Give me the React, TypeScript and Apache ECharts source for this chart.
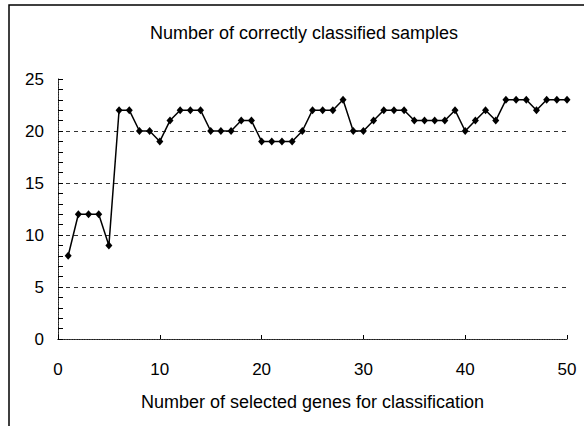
import React, { useEffect, useRef } from "react";
import * as echarts from "echarts";

const titleText = "Number of correctly classified samples";
const xAxisName = "Number of selected genes for classification";
const geneCounts = [
  1, 2, 3, 4, 5, 6, 7, 8, 9, 10, 11, 12, 13, 14, 15, 16, 17, 18, 19, 20, 21, 22, 23, 24, 25,
  26, 27, 28, 29, 30, 31, 32, 33, 34, 35, 36, 37, 38, 39, 40, 41, 42, 43, 44, 45, 46, 47, 48, 49, 50,
];
const correctSamples = [
  8, 12, 12, 12, 9, 22, 22, 20, 20, 19, 21, 22, 22, 22, 20, 20, 20, 21, 21, 19, 19, 19, 19, 20, 22,
  22, 22, 23, 20, 20, 21, 22, 22, 22, 21, 21, 21, 21, 22, 20, 21, 22, 21, 23, 23, 23, 22, 23, 23, 23,
];

const FONT = "'Liberation Sans', Arial, sans-serif";

export default function App() {
  const ref = useRef<HTMLDivElement>(null);
  useEffect(() => {
    if (!ref.current) return;
    const chart = echarts.init(ref.current, null, { renderer: "svg" });
    chart.setOption({
      animation: false,
      backgroundColor: "#ffffff",
      title: {
        text: titleText,
        left: 150,
        top: 24,
        padding: 0,
        textStyle: { fontFamily: FONT, fontSize: 18, fontWeight: "normal", color: "#000" },
      },
      graphic: [
        {
          type: "rect",
          shape: { x: 9, y: 5, width: 620, height: 480 },
          style: { fill: "none", stroke: "#000", lineWidth: 1.5 },
          silent: true,
        },
      ],
      grid: { left: 58, right: 17, top: 79, bottom: 87, containLabel: false },
      xAxis: [
        {
          type: "value",
          min: 0,
          max: 50,
          interval: 10,
          name: xAxisName,
          nameLocation: "middle",
          nameGap: 54,
          nameTextStyle: { fontFamily: FONT, fontSize: 18, color: "#000" },
          axisLine: { show: true, lineStyle: { color: "#000", width: 1 } },
          axisTick: { show: true, inside: true, length: 4, lineStyle: { color: "#000" } },
          axisLabel: { margin: 22, fontFamily: FONT, fontSize: 17, color: "#000" },
          splitLine: { show: false },
        },
        {
          type: "value",
          position: "top",
          min: 0,
          max: 50,
          axisLine: { show: true, lineStyle: { color: "#444", width: 1, type: [1, 1.5] } },
          axisTick: { show: false },
          axisLabel: { show: false },
          splitLine: { show: false },
        },
      ],
      yAxis: [
        {
          type: "value",
          min: 0,
          max: 25,
          interval: 5,
          axisLine: { show: true, lineStyle: { color: "#000", width: 1 } },
          axisTick: { show: true, inside: true, length: 5, lineStyle: { color: "#000" } },
          minorTick: { show: true, splitNumber: 5, length: 5, lineStyle: { color: "#000" } },
          axisLabel: { margin: 14, fontFamily: FONT, fontSize: 17, color: "#000" },
          splitLine: {
            show: true,
            showMinLine: false,
            showMaxLine: false,
            lineStyle: { color: "#333", width: 1, type: [4, 4] },
          },
        },
        {
          type: "value",
          position: "right",
          min: 0,
          max: 25,
          axisLine: { show: true, lineStyle: { color: "#444", width: 1, type: [1, 1.5] } },
          axisTick: { show: false },
          axisLabel: { show: false },
          splitLine: { show: false },
        },
      ],
      series: [
        {
          type: "line",
          xAxisIndex: 0,
          yAxisIndex: 0,
          data: geneCounts.map((g, i) => [g, correctSamples[i]]),
          symbol: "diamond",
          symbolSize: [7, 8],
          showAllSymbol: true,
          itemStyle: { color: "#000" },
          lineStyle: { color: "#000", width: 1.5 },
        },
      ],
    });
    return () => chart.dispose();
  }, []);
  return (
    <div
      ref={ref}
      style={{ position: "absolute", left: 0, top: 0, width: 584, height: 426 }}
    />
  );
}
